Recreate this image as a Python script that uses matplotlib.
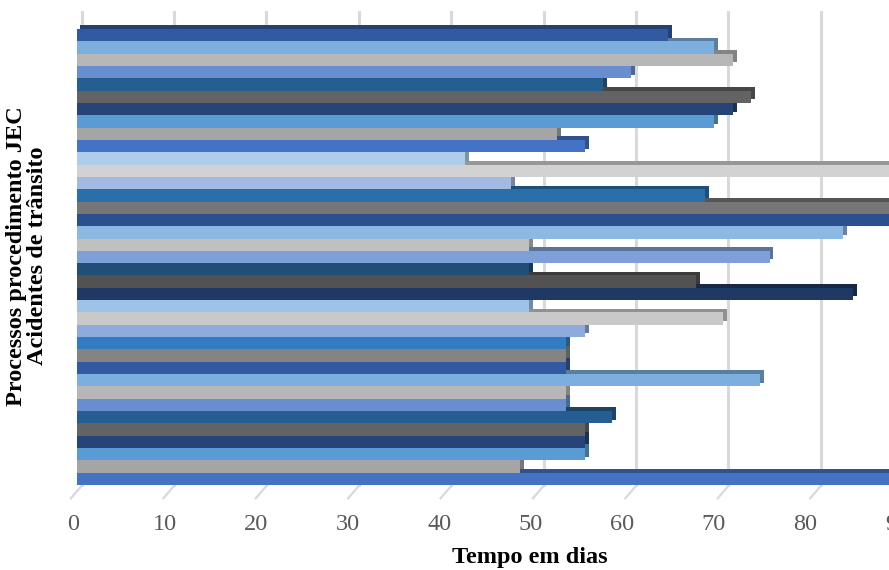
import numpy as np
import matplotlib
matplotlib.use('Agg')
import matplotlib.pyplot as plt
import matplotlib.colors as mcolors
from matplotlib.transforms import ScaledTranslation

# tempo (dias) de cada processo, de baixo para cima
tempo_dias = [96, 48, 55, 55, 55, 58, 53, 53, 74, 53,
              53, 53, 55, 70, 49, 84, 67, 49, 75, 49,
              83, 93, 91, 68, 47, 97, 42, 55, 52, 69,
              71, 73, 57, 60, 71, 69, 64]

cores = ['#4472C4', '#A5A5A5', '#5B9BD5', '#264478', '#636363', '#255E91',
         '#698ED0', '#B7B7B7', '#7CAFDD', '#335AA1', '#848484', '#327DC2',
         '#8FAADC', '#C9C9C9', '#9DC3E6', '#203864', '#525252', '#1F4E79',
         '#7F9FD8', '#C0C0C0', '#8CB8E2', '#2C4F8F', '#767676', '#2A6EAA',
         '#A2B9E2', '#D2D2D2', '#ADCDEA',
         '#4472C4', '#A5A5A5', '#5B9BD5', '#264478', '#636363', '#255E91',
         '#698ED0', '#B7B7B7', '#7CAFDD', '#335AA1']

ticks_x = [0, 10, 20, 30, 40, 50, 60, 70, 80, 90]


def escurecer(cor, f=0.72):
    r, g, b = mcolors.to_rgb(cor)
    return (r * f, g * f, b * f)


def plot_tempo_processos():
    fig = plt.figure(figsize=(8.89, 5.70), dpi=100)
    ax = fig.add_axes([76.5 / 889, 1 - 485 / 570, 1 - 76.5 / 889, (485 - 12) / 570])

    y = np.arange(len(tempo_dias))
    vals = np.array(tempo_dias, dtype=float)

    # efeito 3D: face de trás mais escura, deslocada
    dx, dy = 0.43, 0.30
    ax.barh(y + dy, vals, left=dx, height=1.0, color=[escurecer(c) for c in cores],
            edgecolor='none', zorder=2)
    ax.barh(y, vals, height=1.0, color=cores, edgecolor='none', zorder=3)

    # grade do fundo
    grade = ax.get_xaxis_transform() + ScaledTranslation(5 / 100, 0, fig.dpi_scale_trans)
    for v in ticks_x:
        ax.plot([v, v], [0, 1], transform=grade, color='#D9D9D9', lw=2.2, zorder=1,
                clip_on=False)
        ax.plot([v + 0.55, v - 0.6], [-0.002, -0.028], transform=ax.get_xaxis_transform(),
                color='#D9D9D9', lw=1.6, clip_on=False)
        desloc = ScaledTranslation((-3.5 - 0.085 * v) / 100, 0, fig.dpi_scale_trans)
        ax.text(v, -39 / 473, str(v), transform=ax.get_xaxis_transform() + desloc,
                ha='center', va='center', fontsize=17.5, color='#595959',
                family='Liberation Serif', clip_on=False)

    ax.set_xlim(0, (889 - 76.5) / 9.24)
    ax.set_ylim(-0.5, 37.88)
    ax.set_xticks([])
    ax.set_yticks([])
    for s in ax.spines.values():
        s.set_visible(False)

    fig.text(530 / 889, 1 - 557 / 570, 'Tempo em dias', ha='center', va='center',
             fontsize=17.5, fontweight='bold', family='Liberation Serif')
    fig.text(27 / 889, 1 - 256 / 570, 'Processos procedimento JEC\nAcidentes de trânsito',
             rotation=90, ha='center', va='center', fontsize=17.5, fontweight='bold',
             family='Liberation Serif', linespacing=0.95, multialignment='center')

    fig.savefig('out.png', dpi=100)


plot_tempo_processos()
